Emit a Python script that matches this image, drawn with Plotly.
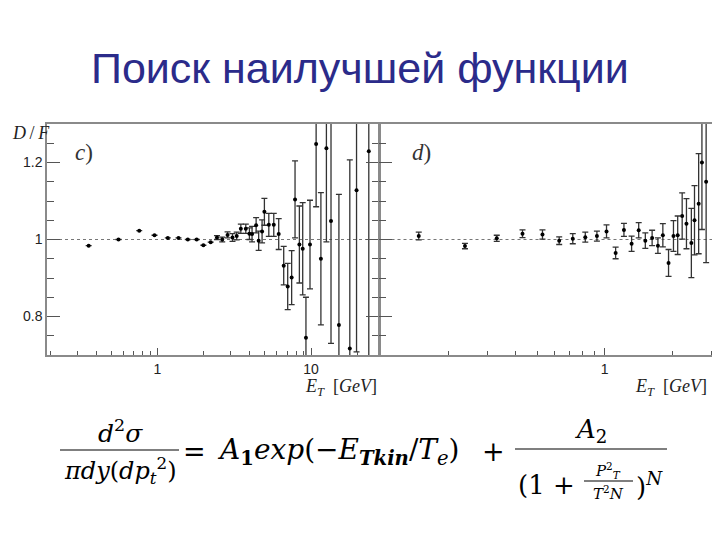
import plotly.graph_objects as go

# ---------------- data ----------------
c_x = [0.356, 0.557, 0.760, 0.956, 1.167, 1.37, 1.575, 1.80, 1.99, 2.22, 2.44, 2.64, 2.86, 3.08,
       3.28, 3.49, 3.76, 3.97, 4.13, 4.39, 4.56, 4.80, 4.97, 5.31, 5.72, 6.16, 6.64, 7.05, 7.48,
       7.87, 8.40, 8.83, 9.27, 9.85, 10.8, 11.6, 12.6, 13.5, 15.2, 17.9, 19.8, 23.8]
c_y = [0.984, 1.000, 1.023, 1.011, 1.004, 1.004, 1.000, 1.000, 0.985, 0.993, 1.005, 1.000, 1.012,
       1.005, 1.009, 1.028, 1.028, 1.015, 1.014, 1.037, 0.997, 1.021, 1.072, 1.038, 1.038, 1.014,
       0.932, 0.878, 0.901, 1.104, 0.987, 0.976, 0.745, 0.987, 1.248, 0.950, 1.237, 1.048, 0.778,
       0.717, 1.128, 1.229]
c_err = [0, 0, 0, 0, 0, 0, 0, 0, 0, 0, 0.005, 0.006, 0.008, 0.010, 0.010, 0.012, 0.012, 0.015,
         0.020, 0.020, 0.025, 0.030, 0.035, 0.030, 0.030, 0.040, 0.050, 0.060, 0.070, 0.100,
         0.100, 0.120, 0.105, 0.115, 0.163, 0.172, 0.243, 0.318, 0.339, 0.490, 0.420, 0.600]

d_x = [0.148, 0.238, 0.330, 0.430, 0.528, 0.627, 0.721, 0.820, 0.924, 1.02, 1.12, 1.22, 1.32,
       1.42, 1.52, 1.63, 1.73, 1.82, 1.93, 2.03, 2.12, 2.22, 2.32, 2.44, 2.52, 2.63, 2.72, 2.84]
d_y = [1.009, 0.983, 1.003, 1.015, 1.013, 0.997, 1.002, 1.006, 1.009, 1.021, 0.965, 1.025, 0.989,
       1.024, 0.997, 1.004, 0.984, 1.011, 0.939, 1.009, 1.011, 1.061, 1.041, 0.991, 1.050, 1.093,
       1.200, 1.150]
d_err = [0.010, 0.007, 0.008, 0.010, 0.012, 0.010, 0.013, 0.013, 0.013, 0.017, 0.015, 0.017,
         0.020, 0.020, 0.020, 0.020, 0.020, 0.030, 0.035, 0.040, 0.050, 0.060, 0.065, 0.090,
         0.090, 0.130, 0.174, 0.210]

y_ticks = [0.8, 1, 1.2]
y_ticktext = ["0.8", "1", "1.2"]
c_xticks = [1, 10]
d_xticks = [1]
c_minor = [0.2, 0.3, 0.4, 0.5, 0.6, 0.7, 0.8, 0.9, 2, 3, 4, 5, 6, 7, 8, 9, 20]
d_minor = [0.2, 0.3, 0.4, 0.5, 0.6, 0.7, 0.8, 0.9, 2, 3]

title_text = "Поиск наилучшей функции"

# ---------------- layout helpers ----------------
# the page body has an 8px default margin, so the figure is drawn 8px in
OFF = 8
W, H = 720 - OFF, 540 - OFF


def px(x):
    return (x - OFF) / W


def py(y):
    return 1 - (y - OFF) / H


AX = "#8a8a8a"
INK = "#222222"
SERIF = "Liberation Serif, DejaVu Serif, serif"
MATH = "DejaVu Serif, Liberation Serif, serif"
SANS = "Liberation Sans, Arial, sans-serif"

fig = go.Figure()

err_style = dict(type="data", thickness=1.3, width=3, color="#333333")
fig.add_trace(go.Scatter(x=c_x, y=c_y, mode="markers",
                         marker=dict(size=4, color="black"),
                         error_y=dict(array=c_err, **err_style),
                         xaxis="x", yaxis="y", showlegend=False))
fig.add_trace(go.Scatter(x=d_x, y=d_y, mode="markers",
                         marker=dict(size=4, color="black"),
                         error_y=dict(array=d_err, **err_style),
                         xaxis="x2", yaxis="y2", showlegend=False))

ydom = [py(355), py(124)]
common_x = dict(type="log", showgrid=False, zeroline=False, showline=True, linecolor=AX,
                linewidth=1.5, mirror=True, ticks="inside", ticklen=7, tickcolor="#555",
                tickfont=dict(family=SANS, size=14, color=INK))
common_y = dict(range=[0.7, 1.3], showgrid=False, zeroline=False, showline=True, linecolor=AX,
                linewidth=1.5, ticks="inside", ticklen=13, tickcolor="#555",
                tickvals=y_ticks, ticktext=y_ticktext,
                tickfont=dict(family=SANS, size=14, color=INK),
                minor=dict(dtick=0.05, tick0=0.7, ticks="inside", ticklen=7, tickcolor="#555"))

fig.update_layout(
    width=W, height=H, autosize=False,
    margin=dict(l=0, r=0, t=0, b=0),
    paper_bgcolor="white", plot_bgcolor="white",
    xaxis=dict(domain=[px(47), px(379)], range=[-0.72, 1.443], tickvals=c_xticks,
               ticktext=["1", "10"], anchor="y",
               minor=dict(tickvals=c_minor, ticks="inside", ticklen=4, tickcolor="#555"),
               **common_x),
    yaxis=dict(domain=ydom, anchor="x", mirror="ticks", **common_y),
    xaxis2=dict(domain=[px(379.5), px(713)], range=[-1.005, 0.484], tickvals=d_xticks,
                ticktext=["1"], anchor="y2",
                minor=dict(tickvals=d_minor, ticks="inside", ticklen=4, tickcolor="#555"),
                **common_x),
    yaxis2=dict(domain=ydom, anchor="x2", mirror=True, showticklabels=False, **common_y),
)

# dotted reference lines at D/F = 1
for xr, yr in (("x domain", "y"), ("x2 domain", "y2")):
    fig.add_shape(type="line", xref=xr, yref=yr, x0=0, x1=1, y0=1, y1=1,
                  line=dict(color="#777777", width=1, dash="dot"), layer="below")

ann = []


def text(x, y, s, size, family=SERIF, color="black", xanchor="center", yanchor="middle"):
    ann.append(dict(x=px(x), y=py(y), xref="paper", yref="paper", text=s, showarrow=False,
                    xanchor=xanchor, yanchor=yanchor,
                    font=dict(family=family, size=size, color=color)))


# title
text(360, 68, title_text, 43, family=SANS, color="#2b2b8a")

# axis titles and panel labels
text(10, 133, "<i>D</i>\u2009/\u2009<i>F</i>", 18, color=INK, xanchor="left")
text(379, 387, "<i>E</i><sub><i>T</i></sub>  [<i>GeV</i>]", 18, color=INK, xanchor="right")
text(709, 387, "<i>E</i><sub><i>T</i></sub>  [<i>GeV</i>]", 18, color=INK, xanchor="right")
text(84, 152, "<i>c</i>)", 23, color="#333")
text(421, 152, "<i>d</i>)", 23, color="#333")

# formula
text(120, 431, "<i>d</i><sup>2</sup><i>σ</i>", 25, family=MATH)
text(120, 470, "<i>π</i><i>dy</i>(<i>dp</i><sub><i>t</i></sub><sup>2</sup>)", 24, family=MATH)
text(194, 451, "=", 27, family=MATH)
text(338, 451,
     "<i>A</i><sub><b>1</b></sub><i>exp</i>(−<i>E</i><sub><b><i>Tkin</i></b></sub>"
     "/<i>T</i><sub><i>e</i></sub>)",
     28, family=MATH)
text(493, 451, "+", 27, family=MATH)
text(591, 430, "<i>A</i><sub>2</sub>", 26, family=MATH)
text(516, 485, "(1 +", 26, family=MATH, xanchor="left")
text(608, 470, "<i>P</i><sup>2</sup><sub><i>T</i></sub>", 15, family=MATH)
text(608, 493, "<i>T</i><sup>2</sup><i>N</i>", 15, family=MATH)
text(634, 485, ")<sup><i>N</i></sup>", 26, family=MATH, xanchor="left")
fig.update_layout(annotations=ann)

for x0, x1, y0 in ((60, 179, 450), (515, 667, 449), (584, 633, 481)):
    fig.add_shape(type="line", xref="paper", yref="paper", x0=px(x0), x1=px(x1),
                  y0=py(y0), y1=py(y0), line=dict(color="black", width=1.2))

fig.write_html("out.html")
